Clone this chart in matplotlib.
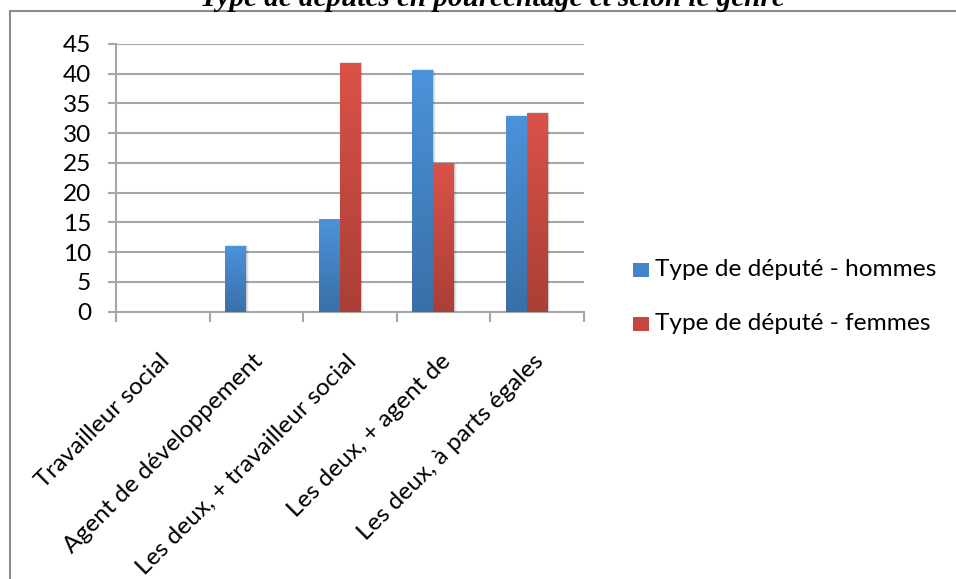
import matplotlib
matplotlib.use("Agg")
import matplotlib.pyplot as plt
import numpy as np
from matplotlib.patches import Rectangle
from matplotlib.colors import LinearSegmentedColormap
import matplotlib.transforms as mtransforms
from matplotlib.lines import Line2D

categories = ["Travailleur social", "Agent de développement",
              "Les deux, + travailleur social", "Les deux, + agent de",
              "Les deux, à parts égales"]
hommes = [0, 11, 15.5, 40.6, 32.9]
femmes = [0, 0, 41.8, 24.9, 33.4]
series_names = ["Type de député - hommes", "Type de député - femmes"]
yticks = [0, 5, 10, 15, 20, 25, 30, 35, 40, 45]
title = "Type de députés en pourcentage et selon le genre"

FONT = ["Lato", "DejaVu Sans"]
plt.rcParams['font.family'] = FONT
FS = 17.6

W, H = 956, 579
fig = plt.figure(figsize=(W/100, H/100), dpi=100)

def fx(px): return px / W
def fy(py): return 1 - py / H

ax_left, ax_right, ax_top, ax_bot = 116, 584, 44, 311.7
ax = fig.add_axes([fx(ax_left), fy(ax_bot), fx(ax_right - ax_left), (ax_bot - ax_top) / H])

grid_c = "#a6a6a6"
n = len(categories)
ax.set_xlim(0, n)
ax.set_ylim(0, 45)
for s in ["top", "right"]:
    ax.spines[s].set_visible(False)
for s in ["left", "bottom"]:
    ax.spines[s].set_color(grid_c)
    ax.spines[s].set_linewidth(1.5)
ax.set_yticks(yticks)
ax.yaxis.grid(True, color=grid_c, linewidth=1.5)
ax.set_axisbelow(True)
ax.tick_params(axis='y', length=6, width=1.5, color=grid_c, labelsize=FS, pad=12, labelcolor="black")

# category boundary ticks
ax.set_xticks(np.arange(n + 1))
ax.set_xticklabels([])
ax.tick_params(axis='x', which='major', length=7, width=1.5, color=grid_c)
ax.set_xticks(np.arange(n) + 0.5, minor=True)
ax.set_xticklabels(categories, minor=True, rotation=45, ha='right', va='top',
                   rotation_mode='anchor', fontsize=FS)
ax.tick_params(axis='x', which='minor', length=0, pad=28)
offset = mtransforms.ScaledTranslation(-4/100, 0, fig.dpi_scale_trans)
for lab in ax.xaxis.get_minorticklabels():
    lab.set_transform(lab.get_transform() + offset)

blue_cmap = LinearSegmentedColormap.from_list("b", ["#3a6fa7", "#4b93da"])
red_cmap = LinearSegmentedColormap.from_list("r", ["#aa3f37", "#da5248"])
grad = np.linspace(0, 1, 256).reshape(-1, 1)

bw = 1 / 4.5
offsets = [-bw, 0.0]
for vals, off, cmap in [(hommes, offsets[0], blue_cmap), (femmes, offsets[1], red_cmap)]:
    for i, v in enumerate(vals):
        if v <= 0:
            continue
        x0 = i + 0.5 + off - bw / 2
        # soft shadow
        for k, a in enumerate([0.10, 0.07, 0.04]):
            ax.add_patch(Rectangle((x0 + 0.012 + k*0.008, 0), bw, v + 0.15 - k*0.15,
                                   facecolor="black", alpha=a, edgecolor="none", zorder=2))
        ax.imshow(grad, cmap=cmap, origin='lower', aspect='auto',
                  extent=[x0, x0 + bw, 0, v], zorder=3, interpolation='bilinear')
ax.set_xlim(0, n)
ax.set_ylim(0, 45)

# title (partially cut off at top, as in the source image)
fig.text(fx(492), fy(6), title, ha='center', va='baseline', fontsize=21,
         fontweight='bold', fontstyle='italic', family=["Liberation Serif", "DejaVu Serif"])

# outer frame
fig.add_artist(Line2D([fx(10), fx(956)], [fy(11), fy(11)], color="#8c8c8c", linewidth=1.5))
fig.add_artist(Line2D([fx(10), fx(10)], [fy(11), fy(579)], color="#8c8c8c", linewidth=1.5))

# legend
for (ytop, col, name) in [(263, "#4385c8", series_names[0]), (317, "#c8463e", series_names[1])]:
    fig.add_artist(Rectangle((fx(633), fy(ytop + 14)), fx(16), 14 / H,
                             facecolor=col, edgecolor="none", transform=fig.transFigure))
    fig.text(fx(655), fy(ytop + 7), name, ha='left', va='center', fontsize=FS, color="black")

fig.savefig("out.png", dpi=100)
